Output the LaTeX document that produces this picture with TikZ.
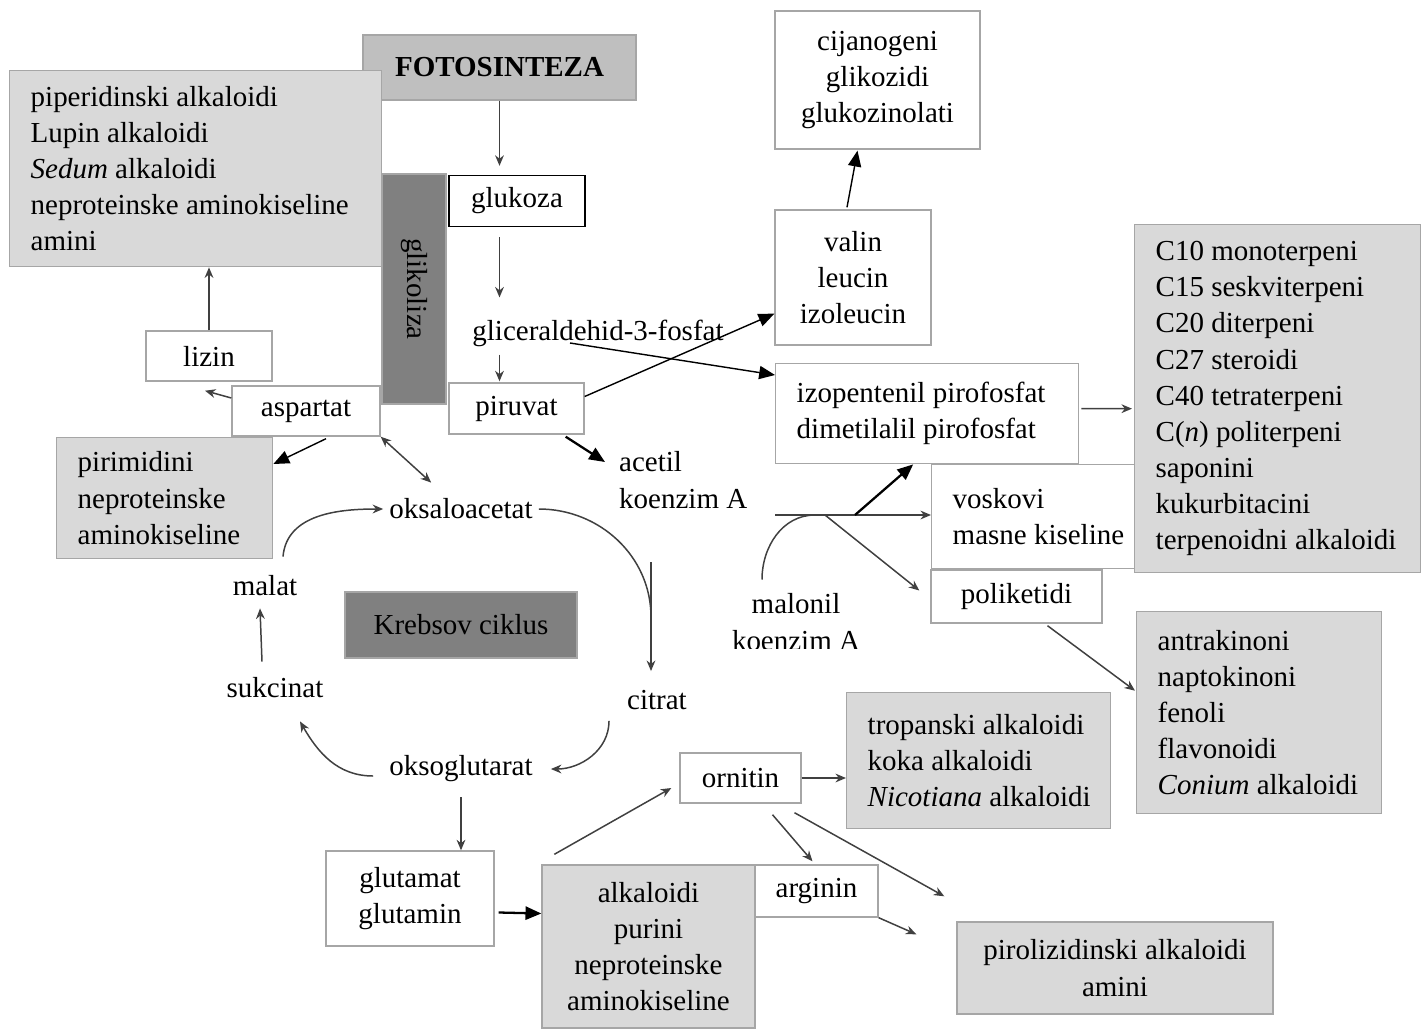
\documentclass[tikz,border=0pt]{standalone}
\usepackage{fontspec}
\setmainfont{Liberation Serif}
\usepackage{tikz}
\usetikzlibrary{arrows.meta,positioning,calc}
\definecolor{boxgrey}{RGB}{217,217,217}
\definecolor{sungrey}{RGB}{191,191,191}
\definecolor{darkgrey}{RGB}{128,128,128}
\definecolor{edgegrey}{RGB}{166,166,166}
\definecolor{linegrey}{RGB}{64,64,64}

\begin{document}
\begin{tikzpicture}[
    x=0.02cm, y=-0.02cm,
    every node/.style={font=\fontsize{16.5}{20.6}\selectfont},
    whitebox/.style={rectangle, draw=edgegrey, line width=0.8pt, fill=white, align=flush center},
    greybox/.style={whitebox, fill=boxgrey},
    sunbox/.style={whitebox, fill=sungrey},
    darkbox/.style={whitebox, fill=darkgrey},
    listbox/.style={anchor=north west, align=flush left, inner xsep=0.42cm},
    word/.style={align=flush center},
    link/.style={linegrey, line width=0.85pt},
    arrow/.style={link, -{Stealth[length=6pt,width=5pt]}},
    bigarrow/.style={black, line width=0.8pt, -{Triangle[length=9pt,width=7.5pt]}}
  ]
    \useasboundingbox (0,0) rectangle (1427,1028);

    % glycolysis column
    \node[sunbox, minimum width=5.46cm, minimum height=1.3cm,
          font=\fontsize{16.5}{20.6}\selectfont\bfseries] (foto) at (499.5,67.5) {FOTOSINTEZA};
    \node[greybox, listbox, text width=6.6cm, minimum height=3.92cm] (piper) at (9,70)
      {piperidinski alkaloidi\\Lupin alkaloidi\\\textit{Sedum} alkaloidi\\neproteinske aminokiseline\\amini};
    \node[darkbox, rotate=-90, minimum width=4.6cm, minimum height=1.28cm] (glik) at (414,289) {glikoliza};
    \node[whitebox, draw=black, minimum width=2.72cm, minimum height=1.02cm] (gluk) at (517,201) {glukoza};
    \node[word] (gap) at (598,333) {gliceraldehid-3-fosfat};
    \node[whitebox, minimum width=2.7cm, minimum height=1.02cm] (piru) at (516.5,408.5) {piruvat};
    \node[whitebox, minimum width=2.52cm, minimum height=1cm] (lizin) at (209,356) {lizin};
    \node[whitebox, minimum width=2.96cm, minimum height=1cm] (aspar) at (306,411) {aspartat};
    \node[greybox, listbox, text width=3.48cm, minimum height=2.42cm] (pirim) at (56,437)
      {pirimidini\\neproteinske\\aminokiseline};

    % Krebs cycle
    \node[word] (oksal) at (461,509) {oksaloacetat};
    \node[word] (malat) at (265,586) {malat};
    \node[darkbox, minimum width=4.64cm, minimum height=1.32cm] (krebs) at (461,625) {Krebsov ciklus};
    \node[word] (sukc) at (275,688) {sukcinat};
    \node[word] (citr) at (657,700) {citrat};
    \node[word] (oksog) at (461,769) {oksoglutarat};

    % amino acids, bottom
    \node[whitebox, minimum width=3.36cm, minimum height=1.9cm] (gluta) at (410,898.5) {glutamat\\glutamin};
    \node[greybox, minimum width=4.26cm, minimum height=3.26cm] (alkal) at (648.5,946.5)
      {alkaloidi\\purini\\neproteinske\\aminokiseline};
    \node[whitebox, minimum width=2.46cm, minimum height=1.04cm] (argin) at (816.5,891) {arginin};
    \node[whitebox, minimum width=2.42cm, minimum height=1cm] (ornit) at (740.5,778) {ornitin};
    \node[greybox, listbox, text width=4.44cm, minimum height=2.72cm] (tropa) at (846,692)
      {tropanski alkaloidi\\koka alkaloidi\\\mbox{\textit{Nicotiana} alkaloidi}};
    \node[greybox, minimum width=6.32cm, minimum height=1.84cm] (pirol) at (1115,968)
      {pirolizidinski alkaloidi\\amini};

    % acetyl-CoA branch, right
    \node[greybox, listbox, text width=4.06cm, minimum height=4.04cm] (antra) at (1136,611)
      {antrakinoni\\naptokinoni\\fenoli\\flavonoidi\\\mbox{\textit{Conium} alkaloidi}};
    \node[whitebox, minimum width=3.42cm, minimum height=1.06cm] (polik) at (1016.5,596.5) {poliketidi};
    \node[whitebox, listbox, text width=3.22cm, minimum height=2.08cm] (vosko) at (931,464)
      {voskovi\\\mbox{masne kiseline}};
    \node[whitebox, listbox, text width=5.22cm, minimum height=2cm] (izope) at (775,363)
      {izopentenil pirofosfat\\dimetilalil pirofosfat};
    \node[greybox, listbox, text width=4.88cm, minimum height=6.96cm] (cdeset) at (1134,224)
      {C10 monoterpeni\\C15 seskviterpeni\\C20 diterpeni\\C27 steroidi\\C40 tetraterpeni\\
       C(\textit{n}) politerpeni\\saponini\\kukurbitacini\\\mbox{terpenoidni alkaloidi}};
    \node[whitebox, minimum width=3.12cm, minimum height=2.7cm] (valin) at (853,277.5) {valin\\leucin\\izoleucin};
    \node[whitebox, minimum width=4.1cm, minimum height=2.76cm] (cijan) at (877.5,80)
      {cijanogeni\\glikozidi\\glukozinolati};
    \node[word, anchor=west, align=flush left] (acet) at (613,480) {acetil\\koenzim A};
    \begin{scope}
      \clip (700,560) rectangle (900,648);
      \node[word] (malon) at (796,622) {malonil\\koenzim A};
    \end{scope}

    \coordinate (cturn) at (651,562);
    \coordinate (fork) at (775,515);

    % connectors
    \draw[arrow] (foto.south) -- ($(foto.south |- gluk.north)+(0,-9)$);
    \draw[arrow] ($(gluk.south -| foto.south)+(0,10)$) -- ($(gap.north -| foto.south)+(0,-16)$);
    \draw[arrow] ($(gap.south -| foto.south)+(0,2)$) -- ($(piru.north -| foto.south)+(0,-1)$);
    \draw[bigarrow] ($(piru.east)+(0,-12)$) -- ($(valin.south west)+(0,-32)$);
    \draw[bigarrow] ($(gap)+(-28,10)$) -- ($(izope.north west)+(0,12)$);
    \draw[bigarrow, line width=1.3pt] ($(piru.south east)+(-19,2)$) -- ($(acet.west)+(-8,-18)$);
    \draw[arrow] ($(aspar.west)+(0,-13)$) -- ($(lizin.south)+(-4,9)$);
    \draw[arrow] (lizin.north) -- (lizin.north |- piper.south);
    \draw[bigarrow] ($(aspar.south)+(20,2)$) -- ($(pirim.north east)+(0,27)$);
    \draw[link, {Stealth[length=6pt,width=5pt]}-{Stealth[length=6pt,width=5pt]}]
      (aspar.south east) -- ($(oksal.north west)+(48,-10)$);

    \draw[arrow] ($(malat.north)+(18,-13)$) to[out=85,in=180] (oksal.west);
    \draw[link] (oksal.east) to[out=0,in=90] ($(cturn)+(0,55)$);
    \draw[arrow] (cturn) -- ($(cturn |- citr.north)+(0,-13)$);
    \draw[arrow] ($(citr.south west)+(-12,5)$) to[out=-90,in=0] ($(oksog.east)+(12,0)$);
    \draw[arrow] ($(oksog.west)+(-10,7)$) to[out=180,in=-60] ($(sukc.south)+(25,17)$);
    \draw[arrow] ($(sukc.north)+(-13,-10)$) -- ($(malat.south)+(-5,6)$);

    \draw[arrow, shorten <=5pt] (oksog.south) -- (oksog.south |- gluta.north);
    \draw[bigarrow, line width=1.3pt] ($(gluta.east)+(4,14)$) -- ($(alkal.west)+(0,-33)$);
    \draw[arrow] ($(alkal.north west)+(13,-10)$) -- ($(ornit.west)+(-8,10)$);
    \draw[arrow] (ornit.east) -- (ornit.east -| tropa.west);
    \draw[arrow] ($(ornit.south)+(32,11)$) -- ($(argin.north)+(-4,-3)$);
    \draw[arrow] ($(ornit.south)+(54,9)$) -- ($(pirol.north west)+(-12,-25)$);
    \draw[arrow] (argin.south east) -- ($(pirol.north west)+(-40,13)$);

    \draw[arrow] ($(izope.east)+(2,-5)$) -- ($(cdeset.west)+(-2,10)$);
    \draw[arrow] (fork) -- (fork -| vosko.west);
    \draw[bigarrow, line width=1.3pt] ($(fork)+(80,0)$) -- ($(izope.south)+(-14,0)$);
    \draw[arrow] ($(fork)+(50,0)$) -- ($(polik.west)+(-11,-6)$);
    \draw[link] ($(malon.north)+(-34,-8)$) to[out=90,in=180] ($(fork)+(40,0)$);
    \draw[arrow] ($(polik.south)+(31,2)$) -- ($(antra.west)+(-1,-22)$);
    \draw[bigarrow] ($(valin.north)+(-6,-2)$) -- ($(cijan.south)+(-20,1)$);
  \end{tikzpicture}
\end{document}
